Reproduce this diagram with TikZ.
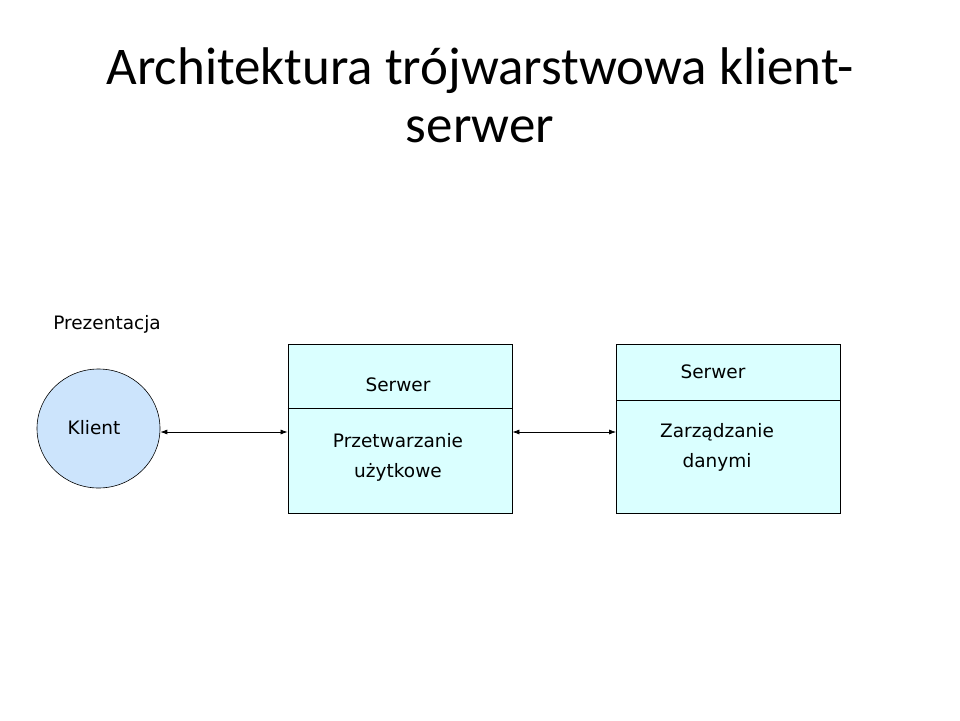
\documentclass[tikz,border=0pt]{standalone}
\usepackage{fontspec}
\setmainfont{DejaVu Sans}
\newfontfamily\titlefont{Carlito}
\usetikzlibrary{arrows.meta, shapes.geometric}

\definecolor{boxfill}{RGB}{218,255,255}
\definecolor{clientfill}{RGB}{204,228,252}

\tikzset{
    box/.style={draw, fill=boxfill, line width=0.8pt, minimum width=224pt, minimum height=169pt, inner sep=0pt},
    lbl/.style={font=\fontsize{18.5}{30}\selectfont, align=center, inner sep=0pt},
    link/.style={{Latex[length=7pt,width=5pt]}-{Latex[length=7pt,width=5pt]}, line width=0.7pt}
}

\begin{document}
\begin{tikzpicture}[x=1pt, y=-1pt]
            \useasboundingbox (0, 0) rectangle (960, 720);
            \node[font=\titlefont\fontsize{53}{58}\selectfont, align=center](title) at (480, 95) {Architektura trójwarstwowa klient-\\serwer};
            \node[lbl](prez) at (107, 324) {Prezentacja};
            \node[ellipse, draw, fill=clientfill, line width=0.6pt,
                  minimum width=123pt, minimum height=119pt, inner sep=0pt](K) at (98.5, 428.5) {};
            \node[lbl](klient) at (94, 428) {Klient};
            \node[box](S1) at (400, 428.5) {};
            \node[box](S2) at (728.5, 428.5) {};
            \draw[line width=0.7pt] (S1.west |- 0, 408) -- (S1.east |- 0, 408);
            \draw[line width=0.7pt] (S2.west |- 0, 400) -- (S2.east |- 0, 400);
            \node[lbl](s1) at (398, 385) {Serwer};
            \node[lbl](p1) at (398, 457) {Przetwarzanie\\użytkowe};
            \node[lbl](s2) at (713, 372) {Serwer};
            \node[lbl](z2) at (717, 447) {Zarządzanie\\danymi};
            \draw[link] (K.east |- 0, 432) -- (S1.west |- 0, 432);
            \draw[link] (S1.east |- 0, 432) -- (S2.west |- 0, 432);
        \end{tikzpicture}
\end{document}
